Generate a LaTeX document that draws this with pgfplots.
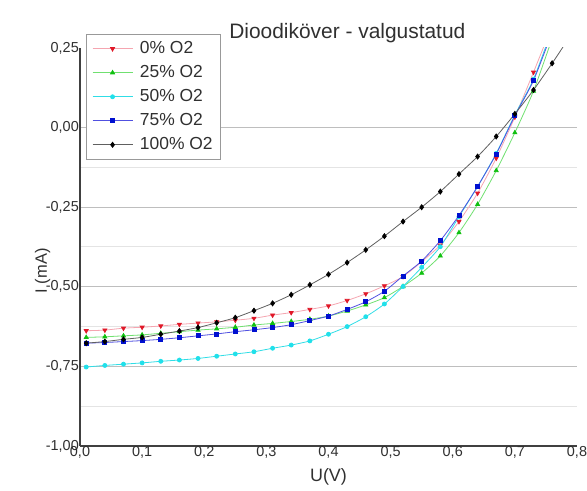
\documentclass[border=0pt]{standalone}
\usepackage{fontspec}
\setmainfont{Liberation Sans}
\usepackage{pgfplots}
\usepackage{pgfplotstable}
\pgfplotsset{compat=1.18}
\definecolor{redL}{HTML}{F5A5B0}
\definecolor{redM}{HTML}{E01828}
\definecolor{grnL}{HTML}{70E070}
\definecolor{grnM}{HTML}{10C010}
\definecolor{cyaL}{HTML}{30DDE6}
\definecolor{cyaM}{HTML}{20E0EA}
\definecolor{bluL}{HTML}{5050E0}
\definecolor{bluM}{HTML}{0010D0}
\definecolor{blkL}{HTML}{606060}
\definecolor{gridM}{HTML}{BEBEBE}
\definecolor{gridm}{HTML}{E4E4E4}
\definecolor{axc}{HTML}{404040}
\definecolor{txt}{HTML}{303030}

\pgfplotstableread{
x      r       g       c       b
0.01  -0.638  -0.659  -0.752  -0.677
0.04  -0.636  -0.657  -0.747  -0.675
0.07  -0.630  -0.654  -0.743  -0.672
0.10  -0.627  -0.651  -0.739  -0.669
0.13  -0.623  -0.646  -0.734  -0.665
0.16  -0.618  -0.641  -0.730  -0.660
0.19  -0.614  -0.636  -0.725  -0.654
0.22  -0.610  -0.632  -0.718  -0.648
0.25  -0.605  -0.627  -0.711  -0.641
0.28  -0.599  -0.620  -0.704  -0.635
0.31  -0.589  -0.615  -0.693  -0.628
0.34  -0.581  -0.609  -0.683  -0.619
0.37  -0.571  -0.602  -0.670  -0.606
0.40  -0.560  -0.592  -0.649  -0.592
0.43  -0.543  -0.576  -0.625  -0.571
0.46  -0.522  -0.557  -0.594  -0.547
0.49  -0.497  -0.534  -0.554  -0.514
0.52  -0.468  -0.499  -0.499  -0.466
0.55  -0.421  -0.457  -0.439  -0.419
0.58  -0.369  -0.403  -0.374  -0.355
0.61  -0.295  -0.330  -0.280  -0.276
0.64  -0.206  -0.241  -0.185  -0.185
0.67  -0.096  -0.135  -0.081  -0.083
0.70   0.033  -0.016   0.040   0.037
0.73   0.174   0.115   0.152   0.148
0.76   0.320   0.280   0.310   0.300
}\diodedata

\pgfplotstableread{
x      k
0.01  -0.677
0.04  -0.672
0.07  -0.665
0.10  -0.659
0.13  -0.649
0.16  -0.639
0.19  -0.628
0.22  -0.613
0.25  -0.597
0.28  -0.575
0.31  -0.552
0.34  -0.525
0.37  -0.494
0.40  -0.461
0.43  -0.424
0.46  -0.384
0.49  -0.341
0.52  -0.295
0.55  -0.250
0.58  -0.201
0.61  -0.146
0.64  -0.091
0.67  -0.028
0.70   0.043
0.73   0.118
0.76   0.202
0.79   0.290
}\blackdata

\begin{document}
\begin{tikzpicture}
\useasboundingbox (-80bp,-45bp) rectangle (507bp,446bp);
\begin{axis}[
  at={(0,0)}, anchor=south west,
  scale only axis, width=497bp, height=398bp,
  xmin=0, xmax=0.8, ymin=-1, ymax=0.25,
  axis x line=bottom, axis y line=left,
  axis line style={-, axc, line width=1.2bp},
  xtick={0,0.1,0.2,0.3,0.4,0.5,0.6,0.7,0.8},
  ytick={-1,-0.75,-0.5,-0.25,0},
  extra y ticks={0.25}, extra y tick style={grid=none},
  minor ytick={-0.875,-0.625,-0.375,-0.125},
  ymajorgrids, yminorgrids,
  major grid style={gridM, line width=1.2bp},
  minor grid style={gridm, line width=1bp},
  major tick length=0pt, minor tick length=0pt,
  scaled ticks=false,
  /pgf/number format/assume math mode=true,
  tick label style={font=\fontsize{14.5}{16}\selectfont, text=txt, inner sep=0pt},
  xticklabel style={/pgf/number format/fixed, /pgf/number format/fixed zerofill, /pgf/number format/precision=1, /pgf/number format/use comma},
  yticklabel style={/pgf/number format/fixed, /pgf/number format/fixed zerofill, /pgf/number format/precision=2, /pgf/number format/use comma, xshift=-1bp},
  xlabel={U(V)},
  xlabel style={at={(axis description cs:0.5,0)}, anchor=base, yshift=-35bp, font=\fontsize{18}{20}\selectfont, text=txt, inner sep=0pt},
  ylabel={I (mA)},
  ylabel style={at={(axis description cs:-0.0664,0.44)}, anchor=base, font=\fontsize{16.5}{18}\selectfont, text=txt, inner sep=0pt},
  title={Dioodiköver - valgustatud},
  title style={at={(axis description cs:0.30,1.010)}, anchor=base west, font=\fontsize{21}{24}\selectfont, text=txt, inner sep=0pt},
  legend style={at={(axis description cs:0.012,1.035)}, anchor=north west,
    draw=gray!80, fill=white, font=\fontsize{17.5}{20}\selectfont, text=txt,
    inner xsep=6bp, inner ysep=4.5bp, row sep=4bp,
    nodes={inner xsep=2bp, inner ysep=2bp, text height=13bp, text depth=3bp},
    /tikz/every odd column/.append style={column sep=5bp}},
  legend cell align=left,
  legend image code/.code={\draw[mark repeat=2,mark phase=2] plot coordinates {(0bp,0bp)(20bp,0bp)(40bp,0bp)};},
  every axis plot/.append style={line width=0.8bp, smooth, tension=0.4},
]
\addplot[color=redL, mark=triangle*, mark size=2.3bp, mark options={fill=redM, draw=redM, rotate=180}] table[x=x, y=r] {\diodedata};
\addlegendentry{0\% O2}
\addplot[color=grnL, mark=triangle*, mark size=2.3bp, mark options={fill=grnM, draw=grnM}] table[x=x, y=g] {\diodedata};
\addlegendentry{25\% O2}
\addplot[color=cyaL, mark=*, mark size=2bp, mark options={fill=cyaM, draw=cyaM}] table[x=x, y=c] {\diodedata};
\addlegendentry{50\% O2}
\addplot[color=bluL, mark=square*, mark size=2bp, mark options={fill=bluM, draw=bluM}] table[x=x, y=b] {\diodedata};
\addlegendentry{75\% O2}
\addplot[color=blkL, mark=diamond*, mark size=2.5bp, mark options={fill=black, draw=black}] table[x=x, y=k] {\blackdata};
\addlegendentry{100\% O2}
\end{axis}
\end{tikzpicture}
\end{document}
